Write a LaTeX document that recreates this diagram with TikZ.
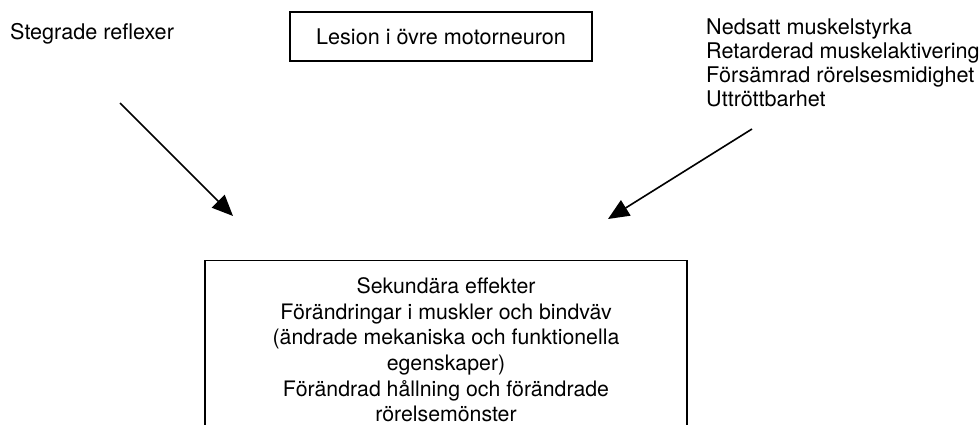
\documentclass[tikz,border=0pt]{standalone}
\usepackage{fontspec}
\setmainfont{TeX Gyre Heros}
\usetikzlibrary{arrows.meta}
\tikzset{
  txt/.style={inner sep=0pt, font=\fontsize{21.6}{24}\selectfont},
  boxtxt/.style={txt, align=center, font=\fontsize{21.3}{25.6}\selectfont},
  frame/.style={draw, line width=1.4pt},
  arr/.style={line width=1.6pt, -{Triangle[length=21pt,width=18pt]}}
}
\begin{document}
\begin{tikzpicture}[x=1pt,y=-1pt]
\clip (0,0) rectangle (980,425);
\useasboundingbox (0,0) rectangle (980,425);
\node[txt, anchor=west] (steg) at (10,33.5) {Stegrade reflexer};
\node[frame, minimum width=302pt, minimum height=49pt, inner sep=0pt,
      font=\fontsize{21.6}{24}\selectfont] (lesion) at (441,36.5) {Lesion i övre motorneuron};
\node[txt, anchor=north west, align=left] (right) at (706,18.5)
  {Nedsatt muskelstyrka\\Retarderad muskelaktivering\\Försämrad rörelsesmidighet\\Uttröttbarhet};
\node[frame, minimum width=482pt, minimum height=180pt, inner sep=0pt, anchor=north] (sekbox) at (446,260) {};
\node[boxtxt, anchor=north] (sek) at (446,277.5)
  {Sekundära effekter\\Förändringar i muskler och bindväv\\(ändrade mekaniska och funktionella\\egenskaper)\\Förändrad hållning och förändrade\\rörelsemönster};
\coordinate (a1s) at (120,103);
\coordinate (a1e) at (233,216);
\coordinate (a2s) at (752,129);
\coordinate (a2e) at (608,219);
\draw[arr] (a1s) -- (a1e);
\draw[arr] (a2s) -- (a2e);
\end{tikzpicture}
\end{document}
